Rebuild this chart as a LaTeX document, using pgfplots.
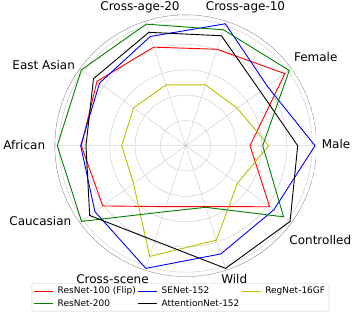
\documentclass[border=0pt]{standalone}
\usepackage{fontspec}
\setmainfont{DejaVu Sans}
\usepackage{pgfplots}
\usepgfplotslibrary{polar}
\pgfplotsset{compat=1.18}
\pgfplotsset{legend image code/.code={\draw[#1] (0pt,0pt) -- (19pt,0pt);}}
\definecolor{mplyellow}{rgb}{0.75,0.75,0}
\definecolor{mplgreen}{rgb}{0,0.5,0}
\begin{document}
\begin{tikzpicture}[x=1pt,y=1pt]
\useasboundingbox (0,0) rectangle (357,316);
\begin{polaraxis}[
  at={(185.7pt,170.3pt)}, anchor=center,
  scale only axis, width=262pt, height=262pt,
  ymin=0, ymax=131,
  xtick={0,36,...,324}, xticklabels={},
  grid=major, major grid style={color=black!18, line width=0.5pt},
  axis y line=none,
  axis line style={draw=none},
  tick style={draw=none},
  legend cell align=left,
  legend style={at={(0.48,-0.025)}, anchor=north, legend columns=3,
    font=\fontsize{9}{10.5}\selectfont, draw=black!20, rounded corners=2pt,
    fill=white, inner xsep=2pt, inner ysep=1.5pt,
    /tikz/every odd column/.append style={column sep=2pt},
    /tikz/every even column/.append style={column sep=0pt}},
]
\draw[black!18, line width=0.5pt] (axis cs:0,0) circle[radius=25.3pt];
\draw[black!18, line width=0.5pt] (axis cs:0,0) circle[radius=50.6pt];
\draw[black!18, line width=0.5pt] (axis cs:0,0) circle[radius=75.9pt];
\draw[black!18, line width=0.5pt] (axis cs:0,0) circle[radius=101.2pt];
\draw[black!18, line width=0.5pt] (axis cs:0,0) circle[radius=126.5pt];
\draw[black!55, line width=0.6pt] (axis cs:0,0) circle[radius=131pt];
\addplot[draw=red, no markers, line width=0.9pt, sharp corners] coordinates {(0,64.3) (36,122.6) (72,101.4) (108,103.6) (144,109.6) (180,104.4) (216,102.5) (252,64.1) (288,64.1) (324,103.8) (360,64.3)};
\addlegendentry{ResNet-100 (Flip)}
\addplot[draw=blue, no markers, line width=0.9pt, sharp corners] coordinates {(0,129.3) (36,101) (72,128.2) (108,114.8) (144,106.5) (180,105) (216,112.2) (252,129) (288,113.8) (324,109) (360,129.3)};
\addlegendentry{SENet-152}
\addplot[draw=mplyellow, no markers, line width=0.9pt, sharp corners] coordinates {(0,83) (36,63.7) (72,64) (108,63.9) (144,64.4) (180,64) (216,64.5) (252,116.4) (288,99.3) (324,63.9) (360,83)};
\addlegendentry{RegNet-16GF}
\addplot[draw=mplgreen, no markers, line width=0.9pt, sharp corners] coordinates {(0,77) (36,128) (72,121.9) (108,127.8) (144,129) (180,128.4) (216,128.8) (252,69.5) (288,64.8) (324,121) (360,77)};
\addlegendentry{ResNet-200}
\addplot[draw=black, no markers, line width=0.9pt, sharp corners] coordinates {(0,112) (36,92.3) (72,115.6) (108,119.2) (144,114) (180,99.7) (216,118.7) (252,100) (288,129) (324,129) (360,112)};
\addlegendentry{AttentionNet-152}
\end{polaraxis}
\begin{scope}[every node/.style={inner sep=0pt, anchor=base, font=\fontsize{12}{14}\selectfont}]
\node at (140,305) {Cross-age-20};
\node at (245.5,305) {Cross-age-10};
\node at (315.7,254.3) {Female};
\node at (336,167) {Male};
\node at (320.3,71.7) {Controlled};
\node at (234.2,32.7) {Wild};
\node at (112.5,32.7) {Cross-scene};
\node at (40.3,90.3) {Caucasian};
\node at (24.2,166.7) {African};
\node at (43.7,246) {East Asian};
\end{scope}
\end{tikzpicture}
\end{document}
